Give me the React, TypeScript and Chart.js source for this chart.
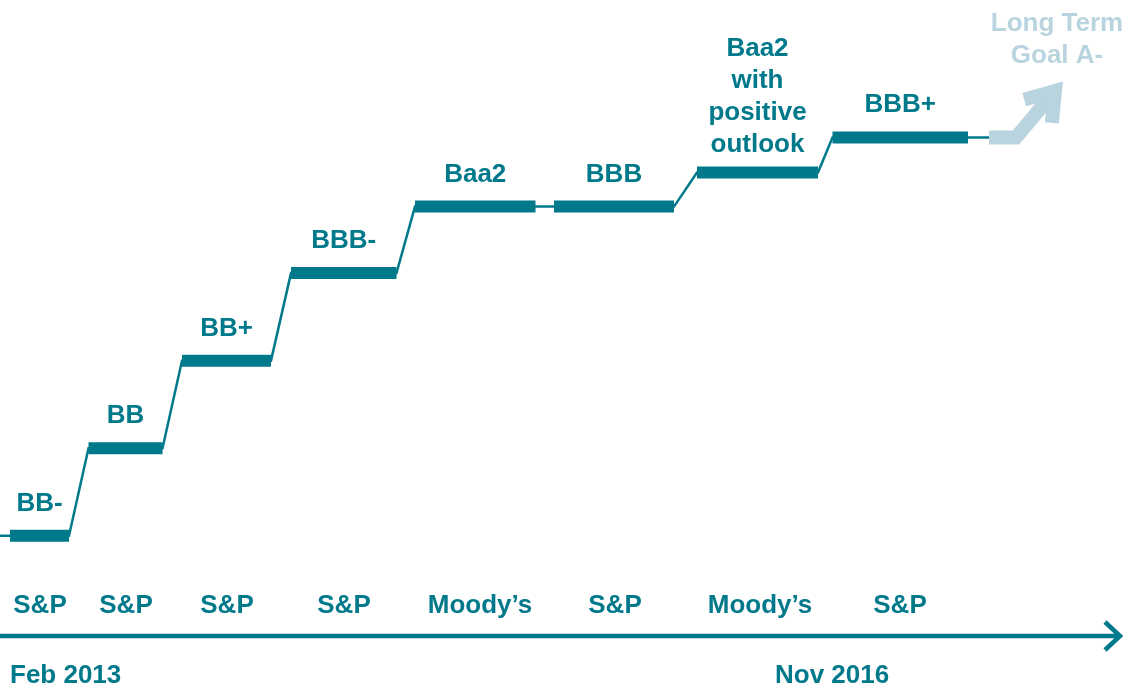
import React, { useEffect, useRef } from "react";
import { Chart, registerables } from "chart.js";

Chart.register(...registerables);

// ---- data ----
const ratingLabels = ["BB-", "BB", "BB+", "BBB-", "Baa2", "BBB", "Baa2\nwith\npositive\noutlook", "BBB+"];
const agencies = ["S&P", "S&P", "S&P", "S&P", "Moody’s", "S&P", "Moody’s", "S&P"];
const levels = [0, 1, 2, 3, 3.76, 3.76, 4.15, 4.55];
const stepStart = [1.0, 8.85, 18.2, 29.1, 41.5, 55.4, 69.7, 83.25];
const stepEnd = [6.9, 16.25, 27.1, 39.65, 53.55, 67.4, 81.8, 96.8];
const agencyPositions = [4.0, 12.6, 22.7, 34.4, 48.0, 61.5, 76.0, 90.0];
const lineStartX = 0;
const goalX = [98.9, 101.6, 105.5];
const goalY = [4.55, 4.55, 5.08];
const goalLabel = ["Long Term", "Goal A-"];
const dateLabels = ["Feb 2013", "Nov 2016"];
const datePositions = [1.0, 77.5];

const TEAL = "#00798b";
const LIGHT = "#b9d4de";
const FONT = 'bold 26px "Liberation Sans", Arial, sans-serif';

const overlay = {
  id: "overlay",
  afterDatasetsDraw(chart: any) {
    const { ctx, chartArea, scales } = chart;
    const x = scales.x;
    const y = scales.y;
    ctx.save();
    ctx.font = FONT;
    ctx.textBaseline = "alphabetic";
    ctx.textAlign = "center";
    ctx.fillStyle = TEAL;

    // rating labels above steps
    ratingLabels.forEach((lab, i) => {
      const lines = lab.split("\n");
      const cx = x.getPixelForValue((stepStart[i] + stepEnd[i]) / 2);
      const base = y.getPixelForValue(levels[i]) - (lines.length > 1 ? 20 : 25);
      lines.forEach((ln, j) => {
        ctx.fillText(ln, cx, base - (lines.length - 1 - j) * 32);
      });
    });

    // agency labels
    const bottom = chartArea.bottom;
    agencies.forEach((a, i) => {
      ctx.fillText(a, x.getPixelForValue(agencyPositions[i]), bottom - 75);
    });

    // date labels
    ctx.textAlign = "left";
    dateLabels.forEach((d, i) => {
      ctx.fillText(d, x.getPixelForValue(datePositions[i]), bottom - 5);
    });

    // time axis arrow
    const ay = bottom - 52;
    const tipX = chartArea.right - 11;
    ctx.strokeStyle = TEAL;
    ctx.lineWidth = 4.5;
    ctx.lineCap = "butt";
    ctx.beginPath();
    ctx.moveTo(chartArea.left, ay);
    ctx.lineTo(tipX - 2, ay);
    ctx.stroke();
    ctx.lineJoin = "miter";
    ctx.beginPath();
    ctx.moveTo(tipX - 15, ay - 14);
    ctx.lineTo(tipX, ay);
    ctx.lineTo(tipX - 15, ay + 14);
    ctx.stroke();

    // goal arrowhead
    const n = goalX.length;
    const vx = x.getPixelForValue(goalX[n - 1]);
    const vy = y.getPixelForValue(goalY[n - 1]);
    const px = x.getPixelForValue(goalX[n - 2]);
    const py = y.getPixelForValue(goalY[n - 2]);
    const back = Math.atan2(py - vy, px - vx);
    const spread = 0.6;
    const len = 32;
    ctx.strokeStyle = LIGHT;
    ctx.lineWidth = 14;
    ctx.lineJoin = "miter";
    ctx.miterLimit = 10;
    ctx.beginPath();
    ctx.moveTo(vx + len * Math.cos(back - spread), vy + len * Math.sin(back - spread));
    ctx.lineTo(vx, vy);
    ctx.lineTo(vx + len * Math.cos(back + spread), vy + len * Math.sin(back + spread));
    ctx.stroke();

    // goal label
    ctx.fillStyle = LIGHT;
    ctx.textAlign = "center";
    goalLabel.forEach((ln, j) => {
      ctx.fillText(ln, vx + 2, vy - 28 - (goalLabel.length - 1 - j) * 32);
    });
    ctx.restore();
  },
};

export default function App() {
  const ref = useRef<HTMLCanvasElement>(null);
  useEffect(() => {
    if (!ref.current) return;
    const thin: any[] = [{ x: lineStartX, y: levels[0] }];
    const thick: any[] = [];
    levels.forEach((lv, i) => {
      thin.push({ x: stepStart[i], y: lv }, { x: stepEnd[i], y: lv });
      thick.push({ x: stepStart[i], y: lv }, { x: stepEnd[i], y: lv });
      if (i < levels.length - 1) thick.push({ x: (stepEnd[i] + stepStart[i + 1]) / 2, y: null });
    });
    thin.push({ x: goalX[0], y: levels[levels.length - 1] });
    const goal = goalX.map((gx, i) => ({ x: gx, y: goalY[i] }));

    const chart = new Chart(ref.current, {
      type: "line",
      data: {
        datasets: [
          {
            data: thick,
            borderColor: TEAL,
            borderWidth: 12,
            borderCapStyle: "butt",
            pointRadius: 0,
            spanGaps: false,
            tension: 0,
            order: 0,
          },
          {
            data: goal,
            borderColor: LIGHT,
            borderWidth: 14,
            borderCapStyle: "butt",
            borderJoinStyle: "miter",
            pointRadius: 0,
            tension: 0,
            order: 1,
          },
          {
            data: thin,
            borderColor: TEAL,
            borderWidth: 2.5,
            borderCapStyle: "butt",
            borderJoinStyle: "miter",
            pointRadius: 0,
            tension: 0,
            order: 2,
          },
        ],
      } as any,
      options: {
        animation: false,
        responsive: false,
        layout: { padding: 0 },
        plugins: { legend: { display: false }, tooltip: { enabled: false } },
        scales: {
          x: { type: "linear", min: 0, max: 113.1, display: false },
          y: { type: "linear", min: -1.74, max: 6.12, display: false },
        },
      } as any,
      plugins: [overlay],
    });
    return () => chart.destroy();
  }, []);

  return (
    <div style={{ position: "absolute", left: 0, top: 0, width: 1131, height: 688, background: "#fff" }}>
      <canvas ref={ref} width={1131} height={688} style={{ display: "block" }} />
    </div>
  );
}
